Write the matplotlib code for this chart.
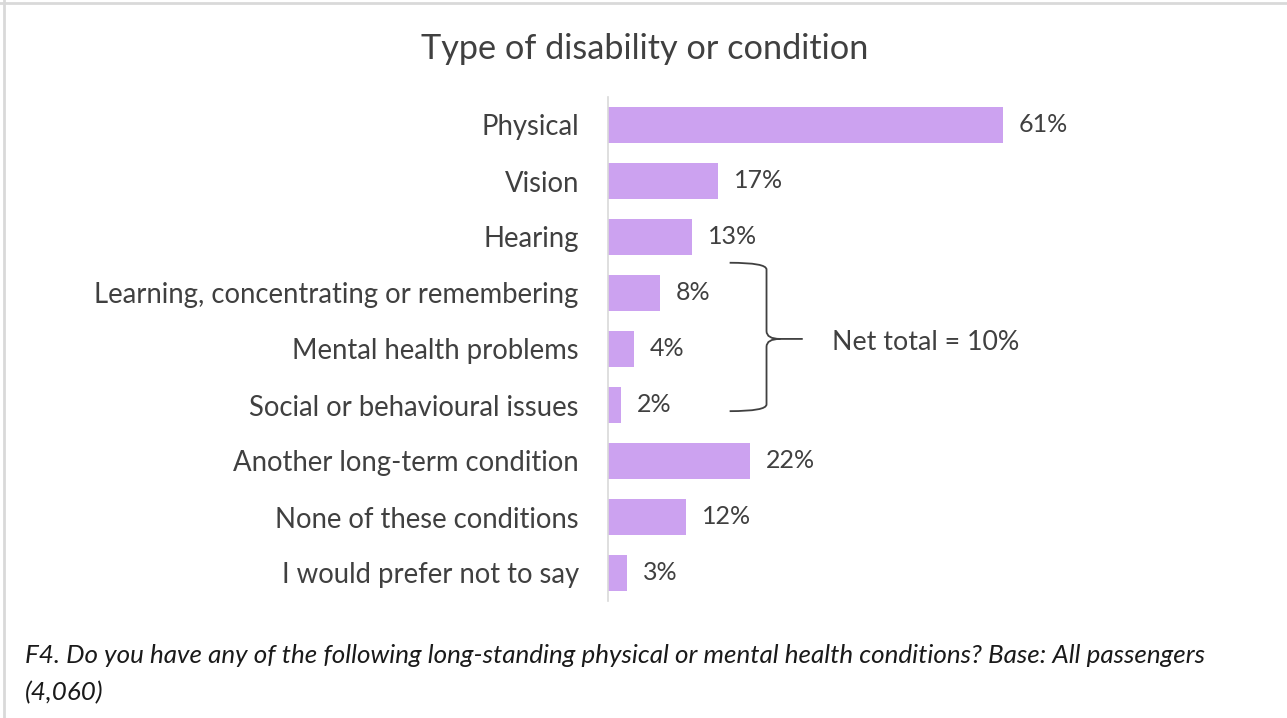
import matplotlib.pyplot as plt
from matplotlib.path import Path
from matplotlib.patches import PathPatch
from matplotlib.lines import Line2D

# Data
categories = [
    'Physical',
    'Vision',
    'Hearing',
    'Learning, concentrating or remembering',
    'Mental health problems',
    'Social or behavioural issues',
    'Another long-term condition',
    'None of these conditions',
    'I would prefer not to say',
]
values = [61, 17, 13, 8, 4, 2, 22, 12, 3]
net_label = 'Net total = 10%'

title = 'Type of disability or condition'
caption = ('F4. Do you have any of the following long-standing physical or mental health conditions? '
           'Base: All passengers\n(4,060)')

bar_color = '#CCA2F0'
text_color = '#404040'
font = 'Lato'

plt.rcParams['font.family'] = [font, 'DejaVu Sans']

W, H = 1287, 718
fig = plt.figure(figsize=(W / 100, H / 100), dpi=100)

# Axes placed in pixel units of the canvas
ax_left, ax_right, ax_top, ax_bottom = 608, 1255, 97, 601
ax = fig.add_axes([ax_left / W, 1 - ax_bottom / H, (ax_right - ax_left) / W, (ax_bottom - ax_top) / H])

y = list(range(len(categories)))
bars = ax.barh(y, values, height=0.66, color=bar_color)

ax.set_xlim(0, 100)
ax.set_ylim(len(categories) - 0.5, -0.5)

for b, v in zip(bars, values):
    ax.annotate(f'{v}%', xy=(b.get_width(), b.get_y() + b.get_height() / 2),
                xytext=(11.5, 0), textcoords='offset points',
                ha='left', va='center', fontsize=18, color=text_color)

ax.set_yticks(y)
ax.set_yticklabels(categories, fontsize=19.8, color=text_color)
ax.tick_params(axis='y', length=0, pad=21)
ax.set_xticks([])
for s in ['top', 'right', 'bottom']:
    ax.spines[s].set_visible(False)
ax.spines['left'].set_color('#d9d9d9')
ax.spines['left'].set_linewidth(1.2)

# Curly brace grouping the three cognitive/mental categories
x0, x1, x2 = 18.8, 24.5, 30.1
ytop, ymid, ybot = 2.46, 3.82, 5.11
verts = [
    (x0, ytop), (x1, ytop), (x1, ytop + 0.12),
    (x1, ymid - 0.14),
    (x1, ymid), (x2 - 3.5, ymid),
    (x2, ymid),
    (x2 - 3.5, ymid), (x1, ymid),
    (x1, ymid + 0.14),
    (x1, ybot - 0.12),
    (x1, ybot), (x0, ybot),
]
codes = [
    Path.MOVETO, Path.CURVE3, Path.CURVE3,
    Path.LINETO,
    Path.CURVE3, Path.CURVE3,
    Path.LINETO,
    Path.MOVETO, Path.CURVE3,
    Path.CURVE3,
    Path.LINETO,
    Path.CURVE3, Path.CURVE3,
]
ax.add_patch(PathPatch(Path(verts, codes), fill=False, edgecolor='#404040', linewidth=1.3,
                       clip_on=False))
ax.text(34.6, ymid + 0.06, net_label, ha='left', va='center', fontsize=19.3, color=text_color)

fig.text(645 / W, 1 - 49 / H, title, ha='center', va='center', fontsize=24.7, color=text_color)
fig.text(25 / W, 1 - 644 / H, caption, ha='left', va='top', fontsize=18.7, style='italic',
         color='#1a1a1a', linespacing=1.7)

# Frame lines along the top and left edges
fig.add_artist(Line2D([0, 1], [1 - 2.5 / H, 1 - 2.5 / H], color='#d9d9d9', linewidth=2))
fig.add_artist(Line2D([3.5 / W, 3.5 / W], [0, 1], color='#d9d9d9', linewidth=2))

fig.savefig('out.png', dpi=100)
